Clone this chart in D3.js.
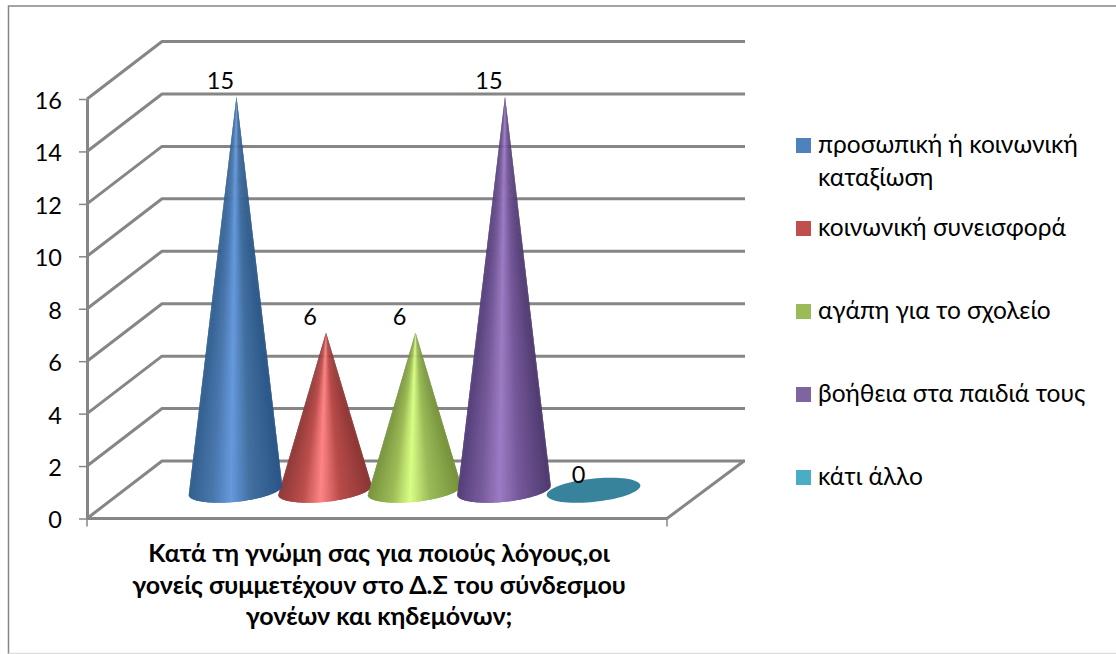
<!DOCTYPE html>
<meta charset="utf-8">
<style>
    html, body { margin: 0; padding: 0; background: #fff; }
    text { font-family: Lato, "Open Sans", "Noto Sans", sans-serif; fill: #000; }
</style>

<script src="https://d3js.org/d3.v7.min.js"></script>

<div id="d3chart"></div>

<script>
    // values
    var seriesNames = ["s1", "s2", "s3", "s4", "s5"];
    var seriesValues = [15, 6, 6, 15, 0];
    var legendLabels = [
        ["προσωπική ή κοινωνική", "καταξίωση"],
        ["κοινωνική συνεισφορά"],
        ["αγάπη για το σχολείο"],
        ["βοήθεια στα παιδιά τους"],
        ["κάτι άλλο"]
    ];
    var legendColors = ["#4f81bd", "#c0504d", "#9bbb59", "#8064a2", "#4bacc6"];
    // cone shading, left edge to right edge
    var coneShades = [
        ["#2a5587", "#426f9f", "#6699dd", "#4a78ae", "#33608f"],
        ["#8a3534", "#b94c4a", "#ff8585", "#bd4f4d", "#8f3b39"],
        ["#75913b", "#9bbb59", "#d9ff85", "#9ebd57", "#7a9540"],
        ["#4e3a6e", "#75589a", "#9c7cc4", "#785c9c", "#55407a"],
        ["#37839b", "#37839b", "#37839b", "#37839b", "#37839b"]
    ];
    var drawOrder = [4, 1, 0, 2, 3];
    var yTicks = [0, 2, 4, 6, 8, 10, 12, 14, 16];
    var titleLines = [
        "Κατά τη γνώμη σας για ποιούς λόγους,οι",
        "γονείς συμμετέχουν στο Δ.Σ του σύνδεσμου",
        "γονέων και κηδεμόνων;"
    ];

    var width = 1116, height = 654;
    var plot = {left: 87, right: 667, top: 99, bottom: 518.5};
    var depth = {dx: 75, dy: -57.5};
    var gridColor = "#868686";

    var svg = d3.select("#d3chart")
        .append("svg")
        .attr("width", width)
        .attr("height", height)
        .style("display", "block");

    // outer frame, runs off the picture on the right and bottom
    svg.append("path")
        .attr("fill", "none")
        .attr("stroke", gridColor)
        .attr("stroke-width", 1.5)
        .attr("d", "M1116,6H8.5V654");
    svg.append("path")
        .attr("fill", "none")
        .attr("stroke", "#dddddd")
        .attr("stroke-width", 1.5)
        .attr("d", "M8.5,653.5H1116");

    var y = d3.scaleLinear().domain([0, 16]).range([plot.bottom, plot.top]);
    var x = d3.scaleBand()
        .domain(seriesNames)
        .range([plot.left, plot.right])
        .paddingInner(0)
        .paddingOuter(0.74);

    // side wall and back wall gridlines
    var grid = svg.append("g").attr("fill", "none").attr("stroke", gridColor);
    grid.selectAll("path.grid")
        .data(yTicks)
        .enter()
        .append("path")
        .attr("class", "grid")
        .attr("stroke-width", 3)
        .attr("stroke-linejoin", "round")
        .attr("d", function (d) {
            return d3.line()([
                [plot.left, y(d)],
                [plot.left + depth.dx, y(d) + depth.dy],
                [745, y(d) + depth.dy]
            ]);
        });

    // floor front and right edges
    grid.append("path")
        .attr("stroke-width", 3)
        .attr("d", d3.line()([
            [plot.left, plot.bottom],
            [plot.right, plot.bottom],
            [744, plot.bottom + depth.dy]
        ]));
    grid.append("path")
        .attr("stroke-width", 1.5)
        .attr("d", "M" + plot.left + "," + plot.bottom + "v8M" + plot.right + "," + plot.bottom + "v8");

    // Y axis
    var yAxis = svg.append("g")
        .attr("transform", "translate(" + plot.left + ",0)")
        .call(d3.axisLeft(y).tickValues(yTicks).tickSize(8).tickPadding(17).tickSizeOuter(0));
    yAxis.select(".domain").attr("stroke", gridColor).attr("stroke-width", 3);
    yAxis.selectAll(".tick line").attr("stroke", gridColor).attr("stroke-width", 1.5);
    yAxis.selectAll(".tick text")
        .attr("font-family", null)
        .style("font-size", "23.5px")
        .attr("dy", "0.4em");

    // cones, built from thin wedges so the shading runs up to the tip
    var rx = 47, ry = 11.6, tilt = -6 * Math.PI / 180, midDepth = depth.dy / 2;

    function basePoint(cx, cy, t) {
        var px = rx * Math.cos(t), py = ry * Math.sin(t);
        return [cx + px * Math.cos(tilt) - py * Math.sin(tilt),
                cy + px * Math.sin(tilt) + py * Math.cos(tilt)];
    }

    var cones = svg.append("g");
    var steps = d3.range(0, 60);
    drawOrder.forEach(function (i) {
        var cx = x(seriesNames[i]) + x.bandwidth() / 2 + 37.5;
        var cy = y(0) + midDepth + 0.5;
        var shade = d3.scaleLinear()
            .domain([-1, -0.3, 0.12, 0.5, 1])
            .range(coneShades[i]);
        var g = cones.append("g");

        if (seriesValues[i] === 0) {
            var flat = d3.range(0, 73).map(function (k) {
                return basePoint(cx, cy, k / 72 * 2 * Math.PI);
            });
            g.append("path").attr("d", d3.line()(flat) + "Z").attr("fill", coneShades[i][0]);
            return;
        }

        var apex = [cx + 1, y(seriesValues[i]) + midDepth];
        // t runs across the front of the base from right to left; each wedge
        // is overlapped by the next one so no seams show
        g.selectAll("path")
            .data(steps)
            .enter()
            .append("path")
            .attr("d", function (k) {
                var t0 = k / steps.length * Math.PI;
                var t1 = Math.min(k + 2, steps.length) / steps.length * Math.PI;
                return d3.line()([apex, basePoint(cx, cy, t0), basePoint(cx, cy, (t0 + t1) / 2), basePoint(cx, cy, t1)]) + "Z";
            })
            .attr("fill", function (k) { return shade(-Math.cos((k + 0.5) / steps.length * Math.PI)); });
    });

    // data labels
    svg.append("g")
        .selectAll("text")
        .data(seriesValues)
        .enter()
        .append("text")
        .attr("text-anchor", "middle")
        .attr("x", function (d, i) { return x(seriesNames[i]) + x.bandwidth() / 2 + 37.5 - 15; })
        .attr("y", function (d) { return y(d) + midDepth - 7; })
        .style("font-size", "23.5px")
        .text(function (d) { return d; });

    // category title
    svg.append("g")
        .selectAll("text")
        .data(titleLines)
        .enter()
        .append("text")
        .attr("text-anchor", "middle")
        .attr("x", 379)
        .attr("y", function (d, i) { return 562 + i * 31.5; })
        .style("font-size", "25px")
        .style("font-weight", "bold")
        .text(function (d) { return d; });

    // legend
    var legendY = [146, 229, 312, 395, 478];
    var legend = svg.append("g")
        .selectAll("g")
        .data(legendLabels)
        .enter()
        .append("g")
        .attr("transform", function (d, i) { return "translate(796," + legendY[i] + ")"; });
    legend.append("rect")
        .attr("y", -8)
        .attr("width", 15)
        .attr("height", 15)
        .attr("fill", function (d, i) { return legendColors[i]; });
    legend.each(function (lines) {
        d3.select(this).selectAll("text")
            .data(lines)
            .enter()
            .append("text")
            .attr("x", 22)
            .attr("y", function (d, i) { return 7 + i * 33; })
            .style("font-size", "24.5px")
            .text(function (d) { return d; });
    });
</script>
